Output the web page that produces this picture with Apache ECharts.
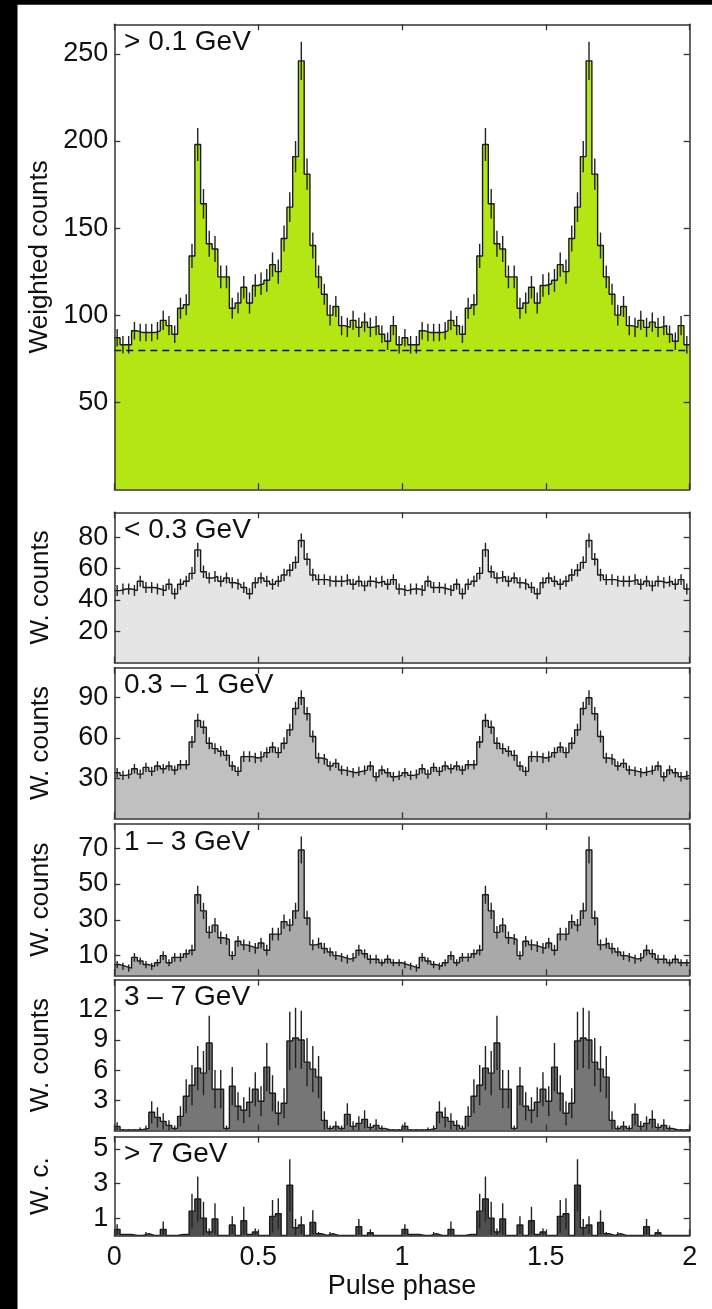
<!DOCTYPE html>
<html>
<head>
<meta charset="utf-8">
<script src="https://cdn.jsdelivr.net/npm/echarts@6/dist/echarts.min.js"></script>
<style>
  html, body { margin: 0; padding: 0; background: #fff; }
  #chart { width: 712px; height: 1309px; }
</style>
</head>
<body>
<div id="chart"></div>
<script>
// pulse profiles, 50 phase bins per rotation (plotted twice, 0..2)
const bandLabels = ['> 0.1 GeV', '< 0.3 GeV', '0.3 – 1 GeV', '1 – 3 GeV', '3 – 7 GeV', '> 7 GeV']
const yNames = ['Weighted counts', 'W. counts', 'W. counts', 'W. counts', 'W. counts', 'W. c.']
const xTicks = [0, 0.5, 1, 1.5, 2]
const yTicks = [
  [50, 100, 150, 200, 250],
  [20, 40, 60, 80],
  [30, 60, 90],
  [10, 30, 50, 70],
  [3, 6, 9, 12],
  [1, 3, 5]
]
const background = 80

const countsAll = [87, 83, 83, 91, 90, 90, 90, 91, 97, 94, 89, 104, 106, 134, 198, 164, 141, 138, 122, 122,
  104, 107, 116, 107, 117, 118, 120, 129, 125, 144, 162, 191, 246, 181, 140, 122, 112, 100, 105, 94,
  93, 97, 93, 96, 93, 94, 89, 85, 94, 83]
const errAll = [5, 5, 5, 5, 5, 5, 5, 5, 5.5, 5.5, 5, 6, 6, 7, 9.5, 8.5, 7.5, 7.5, 6.5, 6.5,
  6, 6, 6.5, 6, 6.5, 6.5, 6.5, 7, 7, 7.5, 8.5, 9, 11, 9, 7.5, 6.5, 6, 6, 6, 5.5,
  5.5, 5.5, 5.5, 5.5, 5.5, 5.5, 5, 5, 5.5, 5]

const countsLow = [46, 47, 47, 46, 52, 48, 48, 47, 46, 50, 44, 50, 52, 57, 72, 58, 54, 55, 52, 54,
  51, 50, 48, 44, 51, 54, 52, 50, 52, 56, 59, 64, 78, 66, 56, 53, 53, 52, 52, 52,
  53, 50, 52, 49, 52, 51, 52, 50, 53, 47]
const errLow = [3.5, 3.5, 3.5, 3.5, 3.5, 3.5, 3.5, 3.5, 3.5, 3.5, 3.5, 3.5, 3.5, 4, 4.5, 4, 3.5, 3.5, 3.5, 3.5,
  3.5, 3.5, 3.5, 3.5, 3.5, 3.5, 3.5, 3.5, 3.5, 4, 4, 4, 4.5, 4, 4, 3.5, 3.5, 3.5, 3.5, 3.5,
  3.5, 3.5, 3.5, 3.5, 3.5, 3.5, 3.5, 3.5, 3.5, 3.5]

const countsMid = [34, 32, 33, 37, 33, 38, 35, 39, 37, 39, 36, 40, 40, 57, 73, 68, 56, 52, 50, 47,
  39, 35, 46, 46, 45, 46, 49, 53, 49, 56, 66, 82, 90, 78, 61, 45, 44, 39, 41, 36,
  35, 34, 35, 36, 39, 31, 36, 34, 31, 32]
const errMid = [3.5, 3.5, 3.5, 3.5, 3.5, 3.5, 3.5, 3.5, 3.5, 3.5, 3.5, 3.5, 3.5, 4.5, 5, 5, 4.5, 4, 4, 4,
  3.5, 3.5, 4, 4, 4, 4, 4, 4, 4, 4.5, 4.5, 5, 5.5, 5, 4.5, 4, 4, 3.5, 3.5, 3.5,
  3.5, 3.5, 3.5, 3.5, 3.5, 3.5, 3.5, 3.5, 3.5, 3.5]

const countsHigh = [5, 4, 3, 9, 7, 5, 4, 6, 10, 6, 9, 9, 11, 13, 44, 35, 23, 27, 20, 19,
  10, 18, 16, 15, 14, 17, 13, 22, 22, 29, 27, 35, 69, 31, 16, 17, 14, 12, 10, 9,
  8, 9, 13, 11, 8, 8, 6, 8, 6, 6]
const errHigh = [2, 2, 2, 2.5, 2, 2, 2, 2, 2.5, 2, 2.5, 2.5, 2.5, 3, 5, 4.5, 3.5, 4, 3.5, 3,
  2.5, 3, 3, 3, 3, 3, 3, 3.5, 3.5, 4, 3.5, 4.5, 7.5, 4, 3, 3, 3, 2.5, 2.5, 2.5,
  2.5, 2.5, 3, 2.5, 2.5, 2.5, 2, 2.5, 2, 2]

const countsHigher = [0.4, 0.05, 0.05, 0.05, 0.1, 0.2, 1.8, 1.3, 0.9, 0.5, 0.2, 1.4, 3.4, 4.5, 6.2, 5.7, 8.7, 4.1, 4.1, 0.2,
  4.4, 2.4, 2.0, 2.8, 4.1, 2.9, 6.3, 3.7, 1.7, 2.7, 8.9, 9.2, 9.0, 6.8, 6.1, 5.3, 1.0, 0.2, 0.4, 0.2,
  1.6, 0.4, 0.7, 1.1, 0.3, 0.5, 0.2, 0.05, 0.05, 0.05]
const errHigher = [0.4, 0.1, 0.1, 0.1, 0.2, 0.3, 1.1, 1, 0.8, 0.5, 0.3, 1, 1.7, 2, 2.2, 2.2, 2.7, 1.9, 1.9, 0.3,
  1.9, 1.4, 1.3, 1.5, 1.7, 1.5, 2.4, 1.8, 1.2, 1.5, 2.9, 3, 2.9, 2.4, 2.3, 2.1, 0.9, 0.3, 0.5, 0.3,
  1.1, 0.5, 0.7, 0.9, 0.4, 0.6, 0.3, 0.1, 0.1, 0.1]

const countsTop = [0.35, 0.05, 0.05, 0, 0, 0.1, 0, 0, 0.35, 0, 0, 0.05, 0.05, 1.4, 2.1, 1.0, 0.2, 0.95, 0, 0,
  0.6, 0, 0.85, 0.05, 0.2, 0, 0, 1.1, 1.25, 0, 2.9, 0.45, 0.6, 0, 0.75, 0.1, 0, 0.1, 0, 0,
  0, 0, 0.5, 0, 0.15, 0, 0, 0, 0, 0]
const errTop = [0.3, 0, 0, 0, 0, 0.1, 0, 0, 0.45, 0, 0, 0, 0, 1, 1.3, 0.95, 0.2, 0.9, 0, 0,
  0.5, 0, 0.8, 0, 0.2, 0, 0, 0.95, 0.9, 0, 1.5, 0.5, 0.5, 0, 0.7, 0.1, 0, 0.1, 0, 0,
  0, 0, 0.45, 0, 0.2, 0, 0, 0, 0, 0]

const counts = [countsAll, countsLow, countsMid, countsHigh, countsHigher, countsTop]
const errors = [errAll, errLow, errMid, errHigh, errHigher, errTop]

// layout / style
const FONT = 'Liberation Sans, Arial, Helvetica, sans-serif'
const GRID_LEFT = 114.3
const GRID_RIGHT = 22.3
const gridTops = [24.3, 512.3, 667.7, 824, 979.7, 1136.7]
const gridHeights = [465, 150.3, 150.6, 151.3, 150.7, 98.7]
const yRanges = [[0, 267], [0, 96], [0, 112.4], [-1, 83.5], [0, 15], [0, 5.7]]
const fills = ['#b3e612', '#e5e5e5', '#c0c0c0', '#a9a9a9', '#767676', '#4f4f4f']
const FRAME = '#333'

const grids = []
const xAxes = []
const yAxes = []
const series = []
const graphics = [
  { type: 'rect', shape: { x: 0, y: 0, width: 17.5, height: 1309 }, style: { fill: '#000' }, z: 100 },
  { type: 'rect', shape: { x: 0, y: 0, width: 712, height: 4.7 }, style: { fill: '#000' }, z: 100 }
]

counts.forEach((vals, p) => {
  const full = vals.concat(vals)
  const errs = errors[p].concat(errors[p])
  const binW = 2 / full.length
  const isLast = p === counts.length - 1

  grids.push({ left: GRID_LEFT, right: GRID_RIGHT, top: gridTops[p], height: gridHeights[p], containLabel: false })

  const axisLine = { show: true, onZero: false, lineStyle: { color: FRAME, width: 1.5 } }
  const tick = { show: true, inside: true, length: 6, lineStyle: { color: FRAME, width: 1.3 } }

  xAxes.push({
    gridIndex: p, type: 'value', position: 'bottom', min: 0, max: 2, interval: 0.5, z: 10,
    axisLine, axisTick: tick, splitLine: { show: false },
    axisLabel: {
      show: isLast, margin: 9, fontSize: 27, color: '#111', fontFamily: FONT,
      customValues: xTicks
    },
    name: isLast ? 'Pulse phase' : '', nameLocation: 'middle', nameGap: 38,
    nameTextStyle: { fontSize: 27, color: '#111', fontFamily: FONT }
  })
  xAxes.push({
    gridIndex: p, type: 'value', position: 'top', min: 0, max: 2, interval: 0.5, z: 10,
    axisLine, axisTick: tick, axisLabel: { show: false }, splitLine: { show: false }
  })
  yAxes.push({
    gridIndex: p, type: 'value', position: 'left', min: yRanges[p][0], max: yRanges[p][1], z: 10,
    axisLine, splitLine: { show: false },
    axisTick: Object.assign({}, tick, { customValues: yTicks[p] }),
    axisLabel: { margin: 6, fontSize: 27, color: '#111', fontFamily: FONT, customValues: yTicks[p] },
    name: yNames[p], nameLocation: 'middle', nameGap: 60,
    nameTextStyle: { fontSize: 26, color: '#111', fontFamily: FONT }
  })
  yAxes.push({
    gridIndex: p, type: 'value', position: 'right', min: yRanges[p][0], max: yRanges[p][1], z: 10,
    axisLine, splitLine: { show: false },
    axisTick: Object.assign({}, tick, { customValues: yTicks[p] }),
    axisLabel: { show: false }
  })

  // histogram steps from bin left edges, closing point at phase 2
  const steps = full.map((v, i) => [i * binW, v])
  steps.push([2, full[full.length - 1]])
  const hist = {
    type: 'line', xAxisIndex: p * 2, yAxisIndex: p * 2, data: steps, step: 'end',
    symbol: 'none', animation: false, z: 2,
    lineStyle: { color: '#1a1a1a', width: 1.4 },
    areaStyle: { color: fills[p], opacity: 1, origin: 'start' }
  }
  if (p === 0) {
    hist.markLine = {
      silent: true, symbol: 'none', label: { show: false }, animation: false,
      lineStyle: { type: [7, 5], color: '#111', width: 1.3 },
      data: [{ yAxis: background }]
    }
  }
  series.push(hist)

  series.push({
    type: 'custom', xAxisIndex: p * 2, yAxisIndex: p * 2, clip: true, animation: false, z: 3,
    data: full.map((v, i) => [(i + 0.5) * binW, v - errs[i], v + errs[i]]),
    encode: { x: 0, y: [1, 2] },
    renderItem: (params, api) => {
      const lo = api.value(1)
      const hi = api.value(2)
      if (hi - lo <= 0) return
      const a = api.coord([api.value(0), lo])
      const b = api.coord([api.value(0), hi])
      return {
        type: 'line',
        shape: { x1: a[0], y1: a[1], x2: b[0], y2: b[1] },
        style: { stroke: '#222', lineWidth: 1.4 }
      }
    }
  })

  graphics.push({
    type: 'text', left: 124, top: gridTops[p] + 4, z: 20,
    style: { text: bandLabels[p], fontSize: 28, fill: '#111', fontFamily: FONT }
  })
})

const chart = echarts.init(document.getElementById('chart'), null, { renderer: 'canvas' })
chart.setOption({
  backgroundColor: '#fff',
  animation: false,
  grid: grids,
  xAxis: xAxes,
  yAxis: yAxes,
  series: series,
  graphic: graphics
})
</script>
</body>
</html>
